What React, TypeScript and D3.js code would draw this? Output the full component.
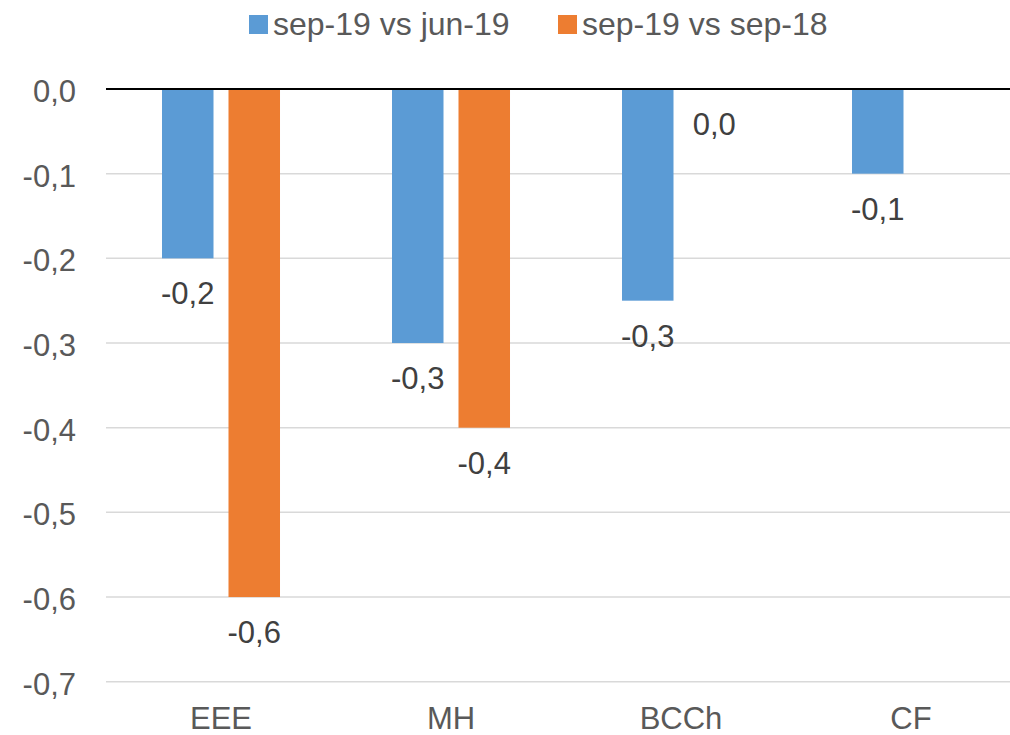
import React from "react";
import * as d3 from "d3";

const categories = ["EEE", "MH", "BCCh", "CF"];
const seriesNames = ["sep-19 vs jun-19", "sep-19 vs sep-18"];
const seriesJun = [-0.2, -0.3, -0.25, -0.1];
const seriesSep = [-0.6, -0.4, 0.0, null];
const colors = ["#5B9BD5", "#ED7D31"];
const yTicks = [0, -0.1, -0.2, -0.3, -0.4, -0.5, -0.6, -0.7];

const W = 1010;
const H = 735;
const FONT = "'Liberation Sans', Arial, Helvetica, sans-serif";

const locale = d3.formatLocale({
  decimal: ",",
  thousands: ".",
  grouping: [3],
  currency: ["", "€"],
  minus: "-",
});
const fmt = locale.format(".1f");

export default function App() {
  const plotLeft = 106;
  const plotRight = 1010;
  const y = d3.scaleLinear().domain([-0.7, 0]).range([681.7, 89]);
  const x0 = d3.scaleBand<string>().domain(categories).range([106, 1026]).padding(0);
  const x1 = d3
    .scaleBand<string>()
    .domain(seriesNames)
    .range([0, x0.bandwidth()])
    .paddingInner(0.2256)
    .paddingOuter(0.842);

  const allSeries = [seriesJun, seriesSep];
  const bars: { key: string; x: number; w: number; y0: number; y1: number; v: number; c: string }[] = [];
  allSeries.forEach((vals, si) => {
    vals.forEach((v, ci) => {
      if (v === null || v === undefined) return;
      const xx = (x0(categories[ci]) as number) + (x1(seriesNames[si]) as number);
      bars.push({
        key: `${si}-${ci}`,
        x: xx,
        w: x1.bandwidth(),
        y0: y(0),
        y1: y(v),
        v,
        c: colors[si],
      });
    });
  });

  const legendX = [249, 558];

  return (
    <svg
      width={W}
      height={H}
      style={{ position: "absolute", left: 0, top: 0, background: "#fff" }}
      fontFamily={FONT}
    >
      <rect x={0} y={0} width={W} height={H} fill="#fff" />
      {/* gridlines */}
      {yTicks.map((t) =>
        t === 0 ? null : (
          <line
            key={t}
            x1={plotLeft}
            x2={plotRight}
            y1={y(t)}
            y2={y(t)}
            stroke="#D9D9D9"
            strokeWidth={1.5}
          />
        )
      )}
      {/* y tick labels */}
      {yTicks.map((t) => (
        <text
          key={"l" + t}
          x={76}
          y={y(t) + 13}
          textAnchor="end"
          fontSize={31}
          fill="#595959"
        >
          {fmt(t)}
        </text>
      ))}
      {/* bars */}
      {bars.map((b) => (
        <rect
          key={b.key}
          x={b.x}
          y={Math.min(b.y0, b.y1)}
          width={b.w}
          height={Math.abs(b.y1 - b.y0)}
          fill={b.c}
        />
      ))}
      {/* zero line */}
      <line x1={plotLeft} x2={plotRight} y1={y(0)} y2={y(0)} stroke="#000" strokeWidth={2} />
      {/* data labels */}
      {bars.map((b) => (
        <text
          key={"d" + b.key}
          x={b.x + b.w / 2}
          y={b.y1 + 46}
          textAnchor="middle"
          fontSize={31}
          fill="#404040"
        >
          {fmt(b.v)}
        </text>
      ))}
      {/* category labels */}
      {categories.map((c) => (
        <text
          key={"c" + c}
          x={(x0(c) as number) + x0.bandwidth() / 2}
          y={729}
          textAnchor="middle"
          fontSize={31}
          fill="#595959"
        >
          {c}
        </text>
      ))}
      {/* legend */}
      {seriesNames.map((s, i) => (
        <g key={"lg" + s}>
          <rect x={legendX[i]} y={15} width={19} height={19} fill={colors[i]} />
          <text x={legendX[i] + 24} y={35} fontSize={32} fill="#595959">
            {s}
          </text>
        </g>
      ))}
    </svg>
  );
}
